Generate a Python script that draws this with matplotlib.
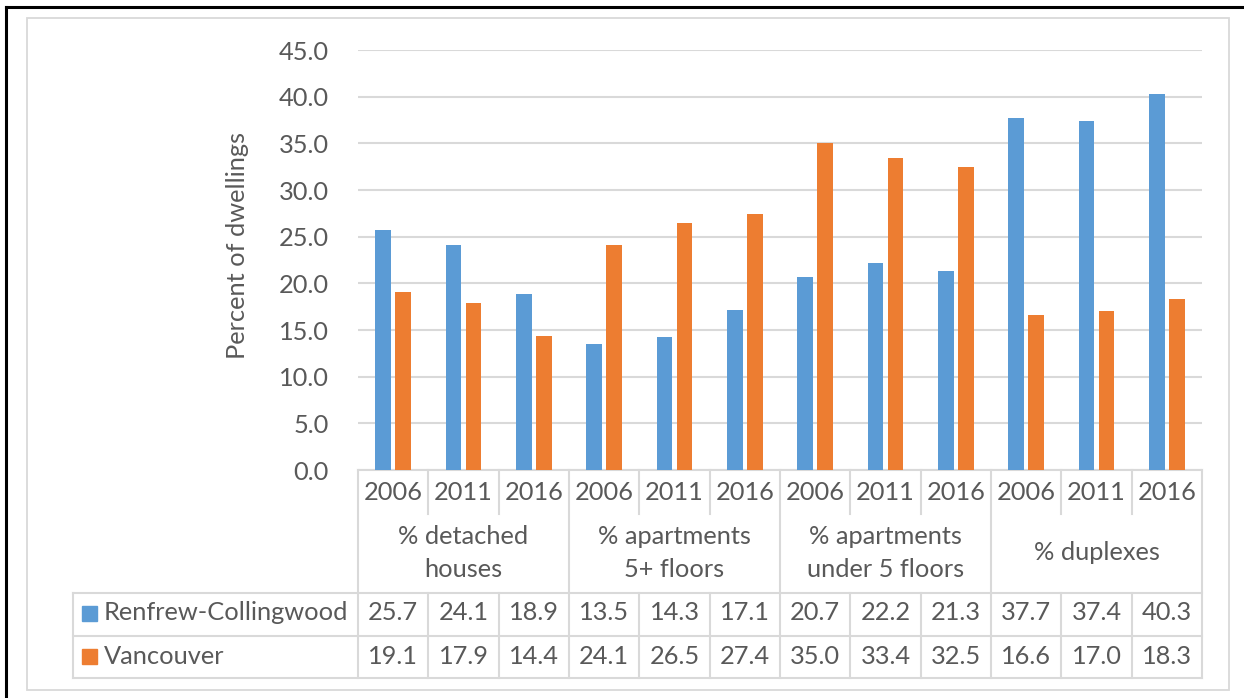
import matplotlib
matplotlib.use('Agg')
import matplotlib.pyplot as plt
import matplotlib.transforms as mtransforms
from matplotlib.patches import Rectangle
from matplotlib.lines import Line2D

plt.rcParams['font.family'] = ['Lato', 'DejaVu Sans']

# data
groups = ['% detached\nhouses', '% apartments\n5+ floors', '% apartments\nunder 5 floors', '% duplexes']
years = ['2006', '2011', '2016']
series_names = ['Renfrew-Collingwood', 'Vancouver']
renfrew = [25.7, 24.1, 18.9, 13.5, 14.3, 17.1, 20.7, 22.2, 21.3, 37.7, 37.4, 40.3]
vancouver = [19.1, 17.9, 14.4, 24.1, 26.5, 27.4, 35.0, 33.4, 32.5, 16.6, 17.0, 18.3]
yticks = [0, 5, 10, 15, 20, 25, 30, 35, 40, 45]
colors = ['#5b9bd5', '#ed7d31']

TXT = '#595959'
GRID = '#d9d9d9'
FS = 18.3
W, H = 1244, 698

fig = plt.figure(figsize=(W / 100, H / 100), dpi=100)

# outer frames
fig.add_artist(Rectangle((27 / W, 1 - 690 / H), (1229 - 27) / W, (690 - 18) / H,
                         transform=fig.transFigure, fill=False, ec=GRID, lw=1.3))
fig.add_artist(Line2D([6 / W, 1], [1 - 7 / H, 1 - 7 / H], transform=fig.transFigure, color='black', lw=2.2))
fig.add_artist(Line2D([6 / W, 6 / W], [0, 1 - 7 / H], transform=fig.transFigure, color='black', lw=2.2))

ax_l, ax_r, ax_t, ax_b = 358, 1202, 50, 470
ax = fig.add_axes([ax_l / W, 1 - ax_b / H, (ax_r - ax_l) / W, (ax_b - ax_t) / H])

n = len(renfrew)
x = list(range(n))
bw = 0.223
ax.bar([i - 0.142 for i in x], renfrew, bw, color=colors[0], zorder=3)
ax.bar([i + 0.142 for i in x], vancouver, bw, color=colors[1], zorder=3)

ax.set_xlim(-0.5, n - 0.5)
ax.set_ylim(0, 45)
ax.set_yticks(yticks)
ax.set_yticklabels(['%.1f' % v for v in yticks], color=TXT, fontsize=FS)
ax.set_xticks([])
ax.tick_params(axis='y', length=0, pad=21)
ax.yaxis.grid(True, color=GRID, lw=1.5)
ax.set_axisbelow(True)
for s in ax.spines.values():
    s.set_visible(False)

fig.text(237 / W, 1 - 245 / H, 'Percent of dwellings', rotation=90, ha='center', va='center',
         color=TXT, fontsize=FS)

# data table under the axis
axh = ax_b - ax_t
def ay(p):
    return (ax_b - p) / axh

def ax_x(p):
    return (p - ax_l) / (ax_r - ax_l)

bt = mtransforms.blended_transform_factory(ax.transData, ax.transAxes)
tA = ax.transAxes
lk = dict(color=GRID, lw=1.5, clip_on=False, solid_capstyle='projecting')

y_top, y_yr, y_d1, y_d2, y_bot = 470, 514, 593, 636, 678

# horizontal lines
ax.plot([-0.5, n - 0.5], [ay(y_top)] * 2, transform=bt, **lk)
for yy in (y_d1, y_d2, y_bot):
    ax.plot([ax_x(73), 1.0], [ay(yy)] * 2, transform=tA, **lk)
# vertical lines
ax.plot([ax_x(73)] * 2, [ay(y_d1), ay(y_bot)], transform=tA, **lk)
for k in range(n + 1):
    xb = k - 0.5
    if k % 3 == 0:
        ax.plot([xb, xb], [ay(y_top), ay(y_bot)], transform=bt, **lk)
    else:
        ax.plot([xb, xb], [ay(y_top), ay(y_yr)], transform=bt, **lk)
        ax.plot([xb, xb], [ay(y_d1), ay(y_bot)], transform=bt, **lk)

for i in x:
    ax.text(i, ay(493), years[i % 3], transform=bt, ha='center', va='center',
            color=TXT, fontsize=FS, clip_on=False)
    ax.text(i, ay(613), '%.1f' % renfrew[i], transform=bt, ha='center', va='center',
            color=TXT, fontsize=FS, clip_on=False)
    ax.text(i, ay(656), '%.1f' % vancouver[i], transform=bt, ha='center', va='center',
            color=TXT, fontsize=FS, clip_on=False)
for g, name in enumerate(groups):
    ax.text(3 * g + 1, ay(553), name, transform=bt, ha='center', va='center',
            color=TXT, fontsize=FS, linespacing=1.5, clip_on=False)

# legend keys in the table
sq = 15
for r, (name, c) in enumerate(zip(series_names, colors)):
    yc = 613 if r == 0 else 656
    ax.add_patch(Rectangle((ax_x(82), ay(yc + sq / 2)), sq / (ax_r - ax_l), sq / axh,
                           transform=tA, color=c, clip_on=False))
    ax.text(ax_x(104), ay(yc), name, transform=tA, ha='left', va='center',
            color=TXT, fontsize=FS, clip_on=False)

fig.savefig('out.png', dpi=100)
